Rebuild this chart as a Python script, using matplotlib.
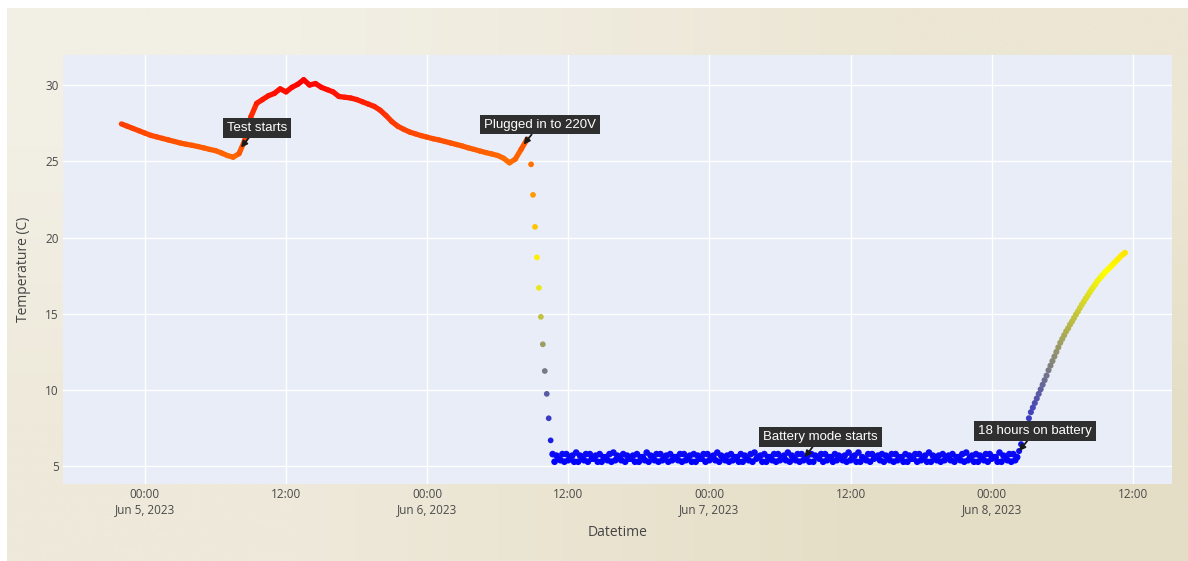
import matplotlib
matplotlib.use("Agg")
import matplotlib.pyplot as plt
import matplotlib.dates as mdates
import numpy as np
import pandas as pd
from matplotlib.collections import LineCollection
from matplotlib.colors import LinearSegmentedColormap, Normalize

# fridge temperature log, one segment per phase of the test
warm_start = "2023-06-04 22:00"   # every 30 min, ambient + mains cooling off
warm_temp = [
    27.45, 27.3, 27.15, 27.0, 26.85, 26.7, 26.6, 26.5, 26.4, 26.3,
    26.2, 26.12, 26.05, 25.97, 25.88, 25.78, 25.7, 25.55, 25.38, 25.27,
    25.5, 26.4, 27.9, 28.8, 29.05, 29.3, 29.45, 29.75, 29.55, 29.85,
    30.05, 30.35, 30.0, 30.1, 29.85, 29.7, 29.55, 29.25, 29.2, 29.15,
    29.05, 28.9, 28.75, 28.6, 28.35, 28.0, 27.6, 27.3, 27.1, 26.92,
    26.8, 26.68, 26.58, 26.48, 26.4, 26.3, 26.2, 26.1, 26.0, 25.88,
    25.78, 25.67, 25.57, 25.48, 25.38, 25.2, 24.9, 25.15, 25.8, 26.45,
]

drop_start = "2023-06-06 08:50"   # every 10 min
drop_temp = [24.8, 22.8, 20.7, 18.7, 16.7, 14.8, 13.0, 11.25, 9.75, 8.15, 6.7]

hold_start = "2023-06-06 10:40"   # every 10 min
hold_temp = [
    5.8, 5.3, 5.7, 5.5, 5.4, 5.8, 5.3, 5.8, 5.4, 5.6, 5.7, 5.3,
    5.9, 5.3, 5.7, 5.6, 5.4, 5.8, 5.3, 5.8, 5.5, 5.5, 5.7, 5.3,
    5.8, 5.3, 5.6, 5.6, 5.4, 5.8, 5.3, 5.9, 5.4, 5.7, 5.6, 5.4,
    5.8, 5.3, 5.7, 5.5, 5.5, 5.7, 5.3, 5.8, 5.3, 5.6, 5.6, 5.4,
    5.9, 5.3, 5.7, 5.6, 5.4, 5.8, 5.3, 5.8, 5.4, 5.6, 5.7, 5.3,
    5.8, 5.4, 5.6, 5.6, 5.4, 5.8, 5.3, 5.8, 5.4, 5.5, 5.7, 5.3,
    5.8, 5.3, 5.7, 5.5, 5.5, 5.8, 5.3, 5.8, 5.4, 5.6, 5.7, 5.4,
    5.9, 5.3, 5.7, 5.6, 5.4, 5.7, 5.3, 5.8, 5.4, 5.6, 5.6, 5.3,
    5.8, 5.3, 5.7, 5.5, 5.4, 5.8, 5.3, 5.9, 5.5, 5.6, 5.7, 5.3,
    5.8, 5.3, 5.6, 5.6, 5.4, 5.8, 5.3, 5.8, 5.4, 5.6, 5.7, 5.4,
    5.9, 5.3, 5.7, 5.5, 5.4, 5.8, 5.3, 5.8, 5.4, 5.5, 5.7, 5.3,
    5.8, 5.3, 5.7, 5.6, 5.5, 5.8, 5.3, 5.8, 5.4, 5.6, 5.6, 5.3,
    5.8, 5.4, 5.7, 5.6, 5.4, 5.7, 5.3, 5.9, 5.4, 5.6, 5.7, 5.3,
    5.9, 5.3, 5.6, 5.5, 5.4, 5.8, 5.3, 5.8, 5.5, 5.6, 5.7, 5.4,
    5.8, 5.3, 5.7, 5.6, 5.4, 5.8, 5.3, 5.8, 5.4, 5.6, 5.6, 5.3,
    5.8, 5.3, 5.7, 5.5, 5.5, 5.8, 5.3, 5.8, 5.4, 5.5, 5.7, 5.3,
    5.9, 5.3, 5.7, 5.6, 5.4, 5.7, 5.3, 5.8, 5.4, 5.6, 5.7, 5.4,
    5.8, 5.3, 5.6, 5.6, 5.4, 5.8, 5.3, 5.9, 5.4, 5.6, 5.7, 5.3,
    5.8, 5.3, 5.7, 5.5, 5.4, 5.8, 5.3, 5.8, 5.5, 5.6, 5.6, 5.3,
    5.9, 5.3, 5.7, 5.6, 5.4, 5.8, 5.3, 5.8, 5.4, 5.6,
]

rise_start = "2023-06-08 02:20"   # every 10 min, battery flat
rise_temp = [
    6.0, 6.45, 6.9, 7.3, 7.7, 8.15, 8.55, 8.85, 9.15, 9.45,
    9.75, 10.05, 10.35, 10.65, 10.95, 11.3, 11.6, 11.9, 12.2, 12.5,
    12.8, 13.1, 13.35, 13.6, 13.85, 14.05, 14.3, 14.5, 14.72, 14.95,
    15.15, 15.38, 15.6, 15.8, 16.0, 16.2, 16.4, 16.6, 16.78, 16.95,
    17.15, 17.3, 17.45, 17.6, 17.75, 17.87, 18.0, 18.13, 18.27, 18.4,
    18.53, 18.66, 18.8, 18.9, 19.0,
]

notes = ["Test starts", "Plugged in to 220V", "Battery mode starts", "18 hours on battery"]
note_times = ["2023-06-05 08:10", "2023-06-06 08:12", "2023-06-07 08:05", "2023-06-08 02:20"]
note_temps = [25.9, 26.1, 5.6, 6.0]

x_ticks = pd.date_range("2023-06-05 00:00", "2023-06-08 12:00", freq="12h")
y_ticks = [5, 10, 15, 20, 25, 30]


def date_label(x, pos):
    d = mdates.num2date(x)
    if d.hour == 0:
        return f"{d:%H:%M}\n{d:%b} {d.day}, {d.year}"
    return f"{d:%H:%M}"


def main():
    warm_t = pd.date_range(warm_start, periods=len(warm_temp), freq="30min")
    drop_t = pd.date_range(drop_start, periods=len(drop_temp), freq="10min")
    hold_t = pd.date_range(hold_start, periods=len(hold_temp), freq="10min")
    rise_t = pd.date_range(rise_start, periods=len(rise_temp), freq="10min")

    all_temp = warm_temp + drop_temp + hold_temp + rise_temp
    cmap = LinearSegmentedColormap.from_list("byr", ["#0000ff", "#ffff00", "#ff0000"])
    norm = Normalize(vmin=min(all_temp), vmax=max(all_temp))

    fig = plt.figure(figsize=(11.88, 5.61), dpi=100)
    fig.patch.set_facecolor("white")

    # slide background
    bg = fig.add_axes([7 / 1188, 0, 1 - 7 / 1188, 1 - 8 / 561], zorder=-10)
    grad = np.array([[[242, 239, 229], [236, 230, 212]],
                     [[238, 233, 218], [229, 222, 198]]]) / 255
    bg.imshow(grad, aspect="auto", interpolation="bilinear", extent=[0, 1, 0, 1])
    bg.axis("off")

    ax = fig.add_axes([63 / 1188, 1 - 484 / 561, (1172 - 63) / 1188, (484 - 55) / 561])
    ax.set_facecolor("#E8EDF7")
    for s in ax.spines.values():
        s.set_visible(False)
    ax.grid(True, color="white", linewidth=1)
    ax.set_axisbelow(True)

    # the dense part of the log reads as a solid line
    xw = mdates.date2num(warm_t)
    pts = np.column_stack([xw, warm_temp])
    segs = np.stack([pts[:-1], pts[1:]], axis=1)
    mids = (np.array(warm_temp[:-1]) + np.array(warm_temp[1:])) / 2
    lc = LineCollection(segs, colors=cmap(norm(mids)), linewidths=3.8,
                        capstyle="round", joinstyle="round", zorder=3)
    ax.add_collection(lc)

    ax.scatter(drop_t, drop_temp, c=drop_temp, cmap=cmap, norm=norm, s=17, linewidths=0, zorder=3)
    ax.scatter(hold_t, hold_temp, c=hold_temp, cmap=cmap, norm=norm, s=23, linewidths=0, zorder=3)
    ax.scatter(rise_t, rise_temp, c=rise_temp, cmap=cmap, norm=norm, s=19, linewidths=0, zorder=3)

    for text, t, v in zip(notes, note_times, note_temps):
        ax.annotate(text, xy=(pd.Timestamp(t), v), xytext=(16, 20),
                    textcoords="offset pixels", ha="center", va="center",
                    fontsize=9.5, color="white", family="Liberation Sans",
                    bbox=dict(boxstyle="square,pad=0.3", fc="#2f2f2f", ec="none"),
                    arrowprops=dict(arrowstyle="-|>", color="#1a1a1a", lw=1.3,
                                    mutation_scale=9, shrinkA=0, shrinkB=0),
                    zorder=5)

    ax.set_xlim(pd.Timestamp("2023-06-04 17:02"), pd.Timestamp("2023-06-08 15:20"))
    ax.set_ylim(3.84, 31.97)
    ax.set_xticks(x_ticks)
    ax.xaxis.set_major_formatter(date_label)
    ax.set_yticks(y_ticks)
    ax.tick_params(length=0, labelsize=8.5, labelcolor="#4a4a4a")
    ax.tick_params(axis="x", pad=3)
    ax.tick_params(axis="y", pad=3)
    for lab in ax.get_xticklabels() + ax.get_yticklabels():
        lab.set_family("Open Sans")

    ax.set_xlabel("Datetime", fontsize=10, color="#444444", family="Open Sans", labelpad=6)
    ax.set_ylabel("Temperature (C)", fontsize=10, color="#444444", family="Open Sans", labelpad=10)

    fig.savefig("out.png", dpi=100)


if __name__ == "__main__":
    main()
